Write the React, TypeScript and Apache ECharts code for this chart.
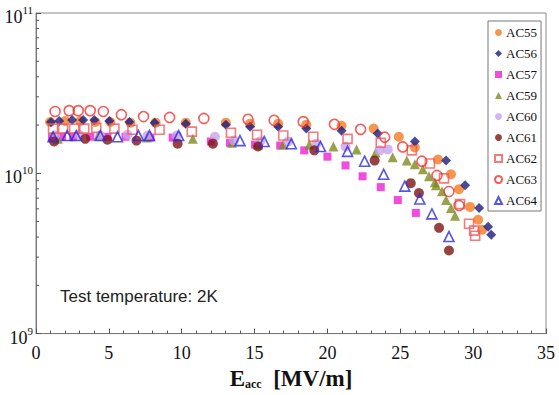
import React, { useEffect, useRef } from "react";
import * as echarts from "echarts";

const SERIES_NAMES = ["AC55", "AC56", "AC57", "AC59", "AC60", "AC61", "AC62", "AC63", "AC64"];

const AC55 = [[0.97,2.09e10],[2.0,2.12e10],[3.03,2.12e10],[4.07,2.09e10],[5.1,2.09e10],[6.48,2.07e10],[8.21,2.07e10],[10.28,2.07e10],[13.03,2.07e10],[14.69,2.04e10],[16.62,2.04e10],[18.55,2.01e10],[20.97,1.98e10],[23.17,1.9e10],[24.9,1.69e10],[26.0,1.45e10],[27.59,1.22e10],[28.48,9.86e9],[29.03,7.96e9],[29.79,6.17e9],[30.34,5.13e9],[30.62,4.45e9]];
const AC56 = [[1.03,2.09e10],[1.59,2.12e10],[2.48,2.15e10],[3.24,2.15e10],[4.0,2.15e10],[5.03,2.12e10],[6.41,2.09e10],[8.14,2.07e10],[10.28,2.04e10],[13.03,2.01e10],[14.69,1.95e10],[16.62,1.95e10],[18.55,1.9e10],[20.97,1.84e10],[23.45,1.77e10],[26.0,1.58e10],[28.14,1.2e10],[29.45,8.43e9],[30.41,6.08e9],[31.03,4.64e9],[31.24,4.14e9]];
const AC57 = [[1.1,1.67e10],[1.79,1.69e10],[2.55,1.69e10],[3.72,1.69e10],[4.9,1.69e10],[6.14,1.69e10],[7.86,1.67e10],[9.38,1.67e10],[12.0,1.58e10],[13.31,1.55e10],[15.03,1.51e10],[16.76,1.49e10],[18.41,1.39e10],[20.0,1.27e10],[21.24,1.12e10],[22.41,9.58e9],[23.66,8.2e9],[24.83,6.81e9],[26.07,5.66e9]];
const AC59 = [[1.5,1.64e10],[4.28,1.72e10],[7.6,1.67e10],[10.76,1.64e10],[13.45,1.55e10],[15.24,1.51e10],[16.97,1.51e10],[18.76,1.51e10],[20.41,1.47e10],[22.0,1.41e10],[23.31,1.35e10],[24.48,1.26e10],[25.45,1.2e10],[26.0,1.14e10],[26.55,1.06e10],[26.97,9.58e9],[27.38,8.8e9],[27.45,8.43e9],[27.86,7.74e9],[28.14,6.81e9],[28.48,6.08e9],[28.76,5.43e9]];
const AC60 = [[1.31,1.72e10],[2.97,1.74e10],[4.41,1.72e10],[6.28,1.74e10],[7.66,1.72e10],[9.66,1.72e10],[12.28,1.69e10],[13.59,1.6e10],[15.38,1.58e10],[17.31,1.58e10],[19.24,1.53e10],[21.24,1.47e10],[23.59,1.39e10],[24.14,1.41e10]];
const AC61 = [[1.24,1.58e10],[3.38,1.64e10],[4.9,1.62e10],[6.9,1.6e10],[9.72,1.53e10],[12.14,1.53e10],[15.24,1.47e10],[19.1,1.39e10],[23.24,1.2e10],[25.72,8.68e9],[26.28,7.53e9],[27.66,4.57e9],[28.34,3.3e9]];
const AC62 = [[1.17,1.9e10],[1.86,1.9e10],[2.62,1.9e10],[3.31,1.9e10],[4.14,1.92e10],[5.38,1.9e10],[6.62,1.87e10],[8.48,1.87e10],[10.69,1.82e10],[13.38,1.79e10],[15.17,1.74e10],[16.97,1.72e10],[19.03,1.69e10],[21.38,1.64e10],[23.66,1.55e10],[25.79,1.39e10],[27.03,1.15e10],[28.0,9.3e9],[29.1,6.44e9],[29.72,4.84e9],[30.07,4.39e9],[30.14,4.08e9]];
const AC63 = [[1.31,2.43e10],[2.28,2.46e10],[2.9,2.46e10],[3.72,2.46e10],[4.62,2.43e10],[5.86,2.32e10],[7.38,2.26e10],[9.17,2.23e10],[11.52,2.2e10],[14.55,2.17e10],[16.34,2.14e10],[18.34,2.1e10],[20.48,2.02e10],[22.28,1.88e10],[23.93,1.68e10],[25.17,1.46e10],[26.48,1.19e10],[27.52,9.7e9],[28.34,7.7e9],[29.03,6.3e9]];
const AC64 = [[1.17,1.69e10],[2.14,1.72e10],[2.76,1.72e10],[4.41,1.72e10],[5.59,1.69e10],[7.03,1.72e10],[7.79,1.72e10],[9.79,1.72e10],[14.0,1.6e10],[15.66,1.58e10],[17.52,1.53e10],[19.52,1.47e10],[21.38,1.37e10],[22.55,1.19e10],[23.86,9.86e9],[25.31,8.32e9],[26.34,6.92e9],[27.17,5.58e9],[28.34,4.03e9]];

const Y_MINOR_TICKS = [2e9,3e9,4e9,5e9,6e9,7e9,8e9,9e9,2e10,3e10,4e10,5e10,6e10,7e10,8e10,9e10];

const ANNOTATION = "Test temperature: 2K";

const SERIF = "'Liberation Serif', 'Times New Roman', serif";
const SANS = "'Liberation Sans', Arial, sans-serif";

type Style = { symbol: string; size: number; color: string; open?: boolean };
const STYLES: Style[] = [
  { symbol: "circle", size: 10, color: "#F47C22" },
  { symbol: "diamond", size: 10, color: "#1B1B7E" },
  { symbol: "rect", size: 8, color: "#F01ED2" },
  { symbol: "triangle", size: 10, color: "#7E8A1E" },
  { symbol: "circle", size: 10, color: "#C7A2F0" },
  { symbol: "circle", size: 10, color: "#7E1414" },
  { symbol: "rect", size: 9, color: "#F05A5A", open: true },
  { symbol: "circle", size: 10, color: "#F03434", open: true },
  { symbol: "triangle", size: 10, color: "#2A2AE0", open: true },
];
const DATA = [AC55, AC56, AC57, AC59, AC60, AC61, AC62, AC63, AC64];

export default function App() {
  const ref = useRef<HTMLDivElement>(null);
  useEffect(() => {
    document.body.style.margin = "0";
    if (!ref.current) return;
    const chart = echarts.init(ref.current, undefined, { renderer: "svg" });
    const scatter = SERIES_NAMES.map((name, i) => {
      const s = STYLES[i];
      return {
        name,
        type: "scatter",
        data: DATA[i],
        symbol: s.symbol,
        symbolSize: s.size,
        itemStyle: s.open
          ? { color: "rgba(255,255,255,0)", borderColor: s.color, borderWidth: 1.6 }
          : { color: s.color, borderWidth: 0 },
        z: 2 + i,
      };
    });
    chart.setOption({
      animation: false,
      backgroundColor: "#fff",
      grid: {
        left: 36,
        right: 13,
        top: 13,
        bottom: 58,
        show: true,
        borderColor: "#8a8a8a",
        borderWidth: 1,
      },
      legend: {
        data: SERIES_NAMES,
        orient: "vertical",
        left: 488,
        top: 21,
        padding: [5, 4, 4, 6],
        itemGap: 8,
        itemWidth: 7,
        itemHeight: 7,
        borderColor: "#777",
        borderWidth: 1,
        backgroundColor: "#fff",
        textStyle: { fontFamily: SERIF, fontSize: 13, color: "#111", padding: [0, 0, 0, -1] },
      },
      xAxis: {
        type: "value",
        min: 0,
        max: 35,
        interval: 5,
        splitLine: { show: false },
        axisLine: { lineStyle: { color: "#777" } },
        axisTick: { inside: true, length: 5, lineStyle: { color: "#555" } },
        minorTick: { show: true, splitNumber: 5, length: 3, lineStyle: { color: "#555" } },
        axisLabel: { fontFamily: SERIF, fontSize: 18, color: "#111", margin: 10 },
        name: "{e|E}{sub|acc}{e|  [MV/m]}",
        nameLocation: "middle",
        nameGap: 31,
        nameTextStyle: {
          rich: {
            e: { fontFamily: SERIF, fontSize: 23, fontWeight: "bold", color: "#111", lineHeight: 24 },
            sub: { fontFamily: SERIF, fontSize: 12, fontWeight: "bold", color: "#111", lineHeight: 12, verticalAlign: "bottom" },
          },
        },
      },
      yAxis: {
        type: "log",
        logBase: 10,
        min: 1e9,
        max: 1e11,
        splitLine: { show: false },
        axisLine: { lineStyle: { color: "#777" } },
        axisTick: { inside: true, length: 5, lineStyle: { color: "#555" } },
        axisLabel: {
          margin: 3,
          formatter: (v: number) => `{b|10}{s|${Math.round(Math.log10(v))}}`,
          rich: {
            b: { fontFamily: SERIF, fontSize: 18, color: "#111", lineHeight: 17, padding: [8, 0, 0, 0] },
            s: { fontFamily: SERIF, fontSize: 11, color: "#111", lineHeight: 13, verticalAlign: "top" },
          },
        },
      },
      graphic: [
        {
          type: "text",
          left: 60,
          top: 288,
          style: { text: ANNOTATION, font: `17px ${SANS}`, fill: "#222" },
        },
      ],
      series: [
        ...scatter,
        {
          type: "custom",
          name: "minor",
          silent: true,
          z: 1,
          data: Y_MINOR_TICKS.map((v) => [0, v]),
          renderItem: (_p: any, api: any) => {
            const pt = api.coord([api.value(0), api.value(1)]);
            return {
              type: "line",
              shape: { x1: pt[0], y1: pt[1], x2: pt[0] + 3, y2: pt[1] },
              style: { stroke: "#555", lineWidth: 1 },
            };
          },
        },
      ],
    });
    return () => chart.dispose();
  }, []);
  return <div ref={ref} style={{ width: 559, height: 395 }} />;
}
